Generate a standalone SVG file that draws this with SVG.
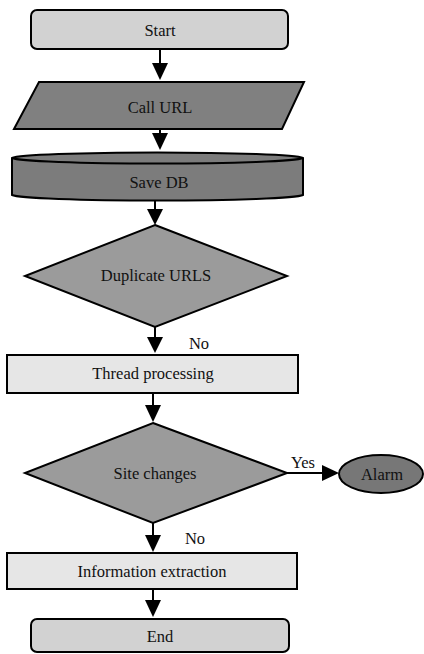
<svg xmlns="http://www.w3.org/2000/svg" width="424" height="654" viewBox="0 0 424 654">
<style>
.n{stroke:#000;stroke-width:2}
.t{font-family:"Liberation Serif","Times New Roman",serif;font-size:16.5px;fill:#111;text-anchor:middle;dominant-baseline:central}
.l{fill:none;stroke:#000;stroke-width:2}
.h{fill:#000;stroke:none}
</style>
<rect width="424" height="654" fill="#fff"/>
<g id="connectors">
<line class="l" x1="160" y1="49" x2="160" y2="66"/><polygon class="h" points="152,63 168,63 160,80"/>
<line class="l" x1="160" y1="129" x2="160" y2="136"/><polygon class="h" points="152,133 168,133 160,150"/>
<line class="l" x1="155" y1="201" x2="155" y2="212"/><polygon class="h" points="147,209 163,209 155,225"/>
<line class="l" x1="155" y1="327" x2="155" y2="340"/><polygon class="h" points="147,337 163,337 155,353"/>
<line class="l" x1="153" y1="393" x2="153" y2="408"/><polygon class="h" points="145,405 161,405 153,422"/>
<line class="l" x1="287" y1="473" x2="325" y2="473"/><polygon class="h" points="322,465 322,481 339,473"/>
<line class="l" x1="153" y1="523" x2="153" y2="538"/><polygon class="h" points="145,535 161,535 153,552"/>
<line class="l" x1="153" y1="589" x2="153" y2="603"/><polygon class="h" points="145,600 161,600 153,617"/>
<text class="t" x="199" y="343">No</text>
<text class="t" x="303" y="462">Yes</text>
<text class="t" x="195" y="538">No</text>
</g>
<g id="start"><rect class="n" x="31" y="10" width="257" height="39" rx="6" fill="#d2d2d2"/><text class="t" x="160" y="30">Start</text></g>
<g id="callurl"><polygon class="n" points="39,82 304,82 282,129 14,129" fill="#808080"/><text class="t" x="160" y="107">Call URL</text></g>
<g id="savedb"><path class="n" d="M12,158 L12,195 A146,6 0 0 0 303,195 L303,158 A146,6 0 0 0 12,158 Z" fill="#7c7c7c"/><path class="n" d="M12,158 A146,6 0 0 0 303,158" fill="none"/><text class="t" x="159" y="182">Save DB</text></g>
<g id="duplicate"><polygon class="n" points="155,225 287,276 155,327 25,276" fill="#9b9b9b"/><text class="t" x="156" y="275">Duplicate URLS</text></g>
<g id="thread"><rect class="n" x="7" y="355" width="291" height="38" fill="#e6e6e6"/><text class="t" x="153" y="373">Thread processing</text></g>
<g id="site"><polygon class="n" points="153,423 287,473 153,523 25,473" fill="#9b9b9b"/><text class="t" x="155" y="473">Site changes</text></g>
<g id="alarm"><ellipse class="n" cx="381" cy="474" rx="42" ry="19" fill="#777"/><text class="t" x="382" y="474">Alarm</text></g>
<g id="info"><rect class="n" x="7" y="553" width="290" height="36" fill="#e6e6e6"/><text class="t" x="152" y="571">Information extraction</text></g>
<g id="end"><rect class="n" x="31" y="619" width="258" height="33" rx="6" fill="#d2d2d2"/><text class="t" x="160" y="636">End</text></g>
</svg>
